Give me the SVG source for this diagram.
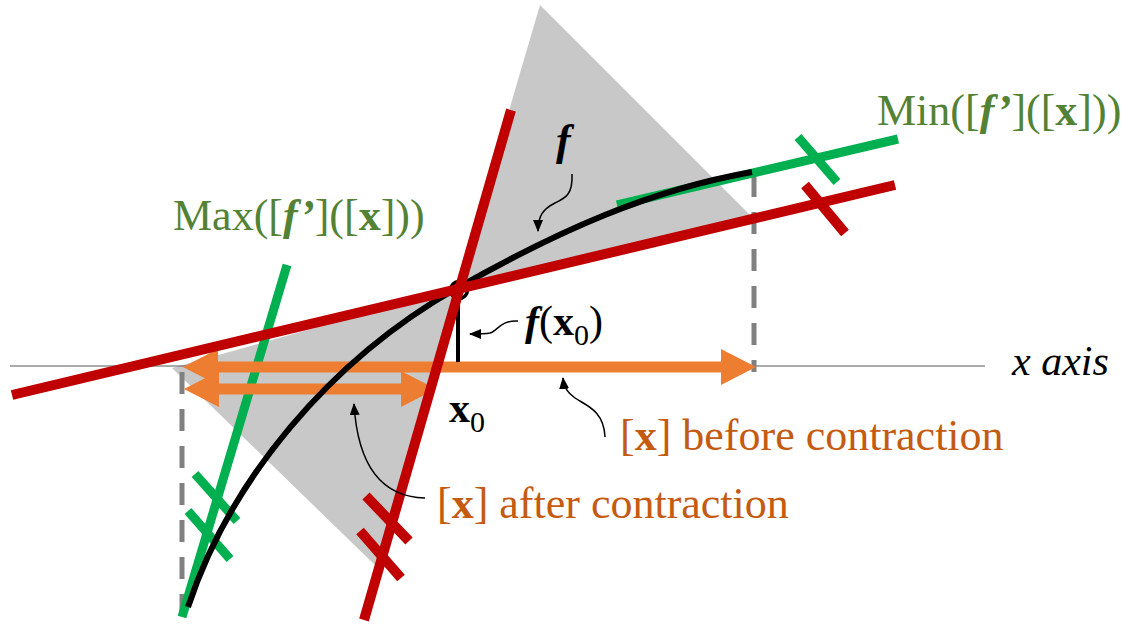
<svg xmlns="http://www.w3.org/2000/svg" width="1129" height="625" viewBox="0 0 1129 625">
<defs>
  <marker id="ohead" viewBox="0 -2 4 4" refX="0.1" refY="0" markerWidth="4" markerHeight="4" markerUnits="strokeWidth" orient="auto-start-reverse">
    <path d="M0,-1.65 L3.2,0 L0,1.65 Z" fill="#ED7D31"/>
  </marker>
  <marker id="bhead" viewBox="0 0 12 10" refX="11" refY="5" markerWidth="12" markerHeight="10" markerUnits="userSpaceOnUse" orient="auto">
    <path d="M0,0 L12,5 L0,10 Z" fill="#000"/>
  </marker>
  <style>
    .gray{fill:#C8C8C8;stroke:none}
    .axis{stroke:#595959;stroke-width:1.2;fill:none}
    .dash{stroke:#808080;stroke-width:5;stroke-dasharray:22 15;fill:none}
    .red{stroke:#C00000;stroke-width:10;fill:none}
    .green{stroke:#00B050;stroke-width:9;fill:none}
    .orange{stroke:#ED7D31;stroke-width:11;fill:none;marker-start:url(#ohead);marker-end:url(#ohead)}
    .curve{stroke:#000;stroke-width:6;fill:none}
    .thin{stroke:#000;stroke-width:1.5;fill:none;marker-end:url(#bhead)}
    text{font-family:"Liberation Serif","Times New Roman",serif}
    .lbl{font-size:44px}
    .greent{fill:#548235}
    .oranget{fill:#C55A11}
    .bi{font-style:italic;font-weight:bold}
    .b{font-weight:bold}
  </style>
</defs>

<g id="cone">
  <polygon class="gray" points="457,288 540,5 750,215"/>
  <polygon class="gray" points="457,288 172,368 378,568"/>
</g>

<g id="axis">
  <line class="axis" x1="10" y1="366" x2="985" y2="366"/>
</g>

<g id="bounds">
  <line class="dash" x1="182" y1="372" x2="182" y2="615"/>
  <line class="dash" x1="754" y1="175" x2="754" y2="372"/>
</g>

<g id="min-max-slopes">
  <line class="green" x1="287" y1="265" x2="182" y2="617"/>
  <line class="green" x1="195" y1="474" x2="237" y2="521"/>
  <line class="green" x1="188" y1="511" x2="230" y2="559"/>
  <line class="green" x1="617" y1="205" x2="898" y2="139"/>
  <line class="green" x1="798" y1="137" x2="837" y2="182"/>
</g>

<g id="intervals">
  <line class="orange" x1="217" y1="367" x2="722" y2="367"/>
  <line class="orange" x1="218" y1="389" x2="402" y2="389"/>
</g>

<g id="function">
  <path class="curve" d="M188,607 C230,480 330,360 457,288 C560,230 650,190 752,172"/>
  <circle cx="459" cy="290" r="8.5" fill="none" stroke="#000" stroke-width="3.5"/>
  <line x1="458" y1="290" x2="458" y2="362" stroke="#000" stroke-width="4"/>
</g>

<g id="tangent-bounds">
  <line class="red" x1="511" y1="110" x2="364" y2="620"/>
  <line class="red" x1="366" y1="496" x2="409" y2="541"/>
  <line class="red" x1="360" y1="531" x2="401" y2="578"/>
  <line class="red" x1="12" y1="395" x2="895" y2="185"/>
  <line class="red" x1="805" y1="185" x2="845" y2="233"/>
</g>

<g id="connectors">
  <path class="thin" d="M572,174 C573,195 565,198 555,203 C543,209 538,216 538,231"/>
  <path class="thin" d="M518,321 C500,320 498,331 490,333 C485,334 478,334 470,334"/>
  <path class="thin" d="M605,437 C604,410 585,405 575,398 C568,393 564,388 563,378"/>
  <path class="thin" d="M425,498 C385,497 358,470 354,404"/>
</g>

<g id="labels">
  <text class="lbl greent" x="173" y="230">Max([<tspan class="bi">f’</tspan>]([<tspan class="b">x</tspan>]))</text>
  <text class="lbl greent" x="877" y="125">Min([<tspan class="bi">f’</tspan>]([<tspan class="b">x</tspan>]))</text>
  <text class="lbl bi" x="556" y="155">f</text>
  <text x="525" y="335" style="font-size:42px"><tspan class="bi">f</tspan>(<tspan class="b">x</tspan><tspan dy="10" style="font-size:30px">0</tspan><tspan dy="-10">)</tspan></text>
  <text x="449" y="422" style="font-size:42px"><tspan class="b">x</tspan><tspan dy="10" style="font-size:30px">0</tspan></text>
  <text x="1012" y="375" style="font-size:42px;font-style:italic">x axis</text>
  <text class="lbl oranget" x="620" y="450">[<tspan class="b">x</tspan>] before contraction</text>
  <text class="lbl oranget" x="437" y="518">[<tspan class="b">x</tspan>] after contraction</text>
</g>
</svg>
